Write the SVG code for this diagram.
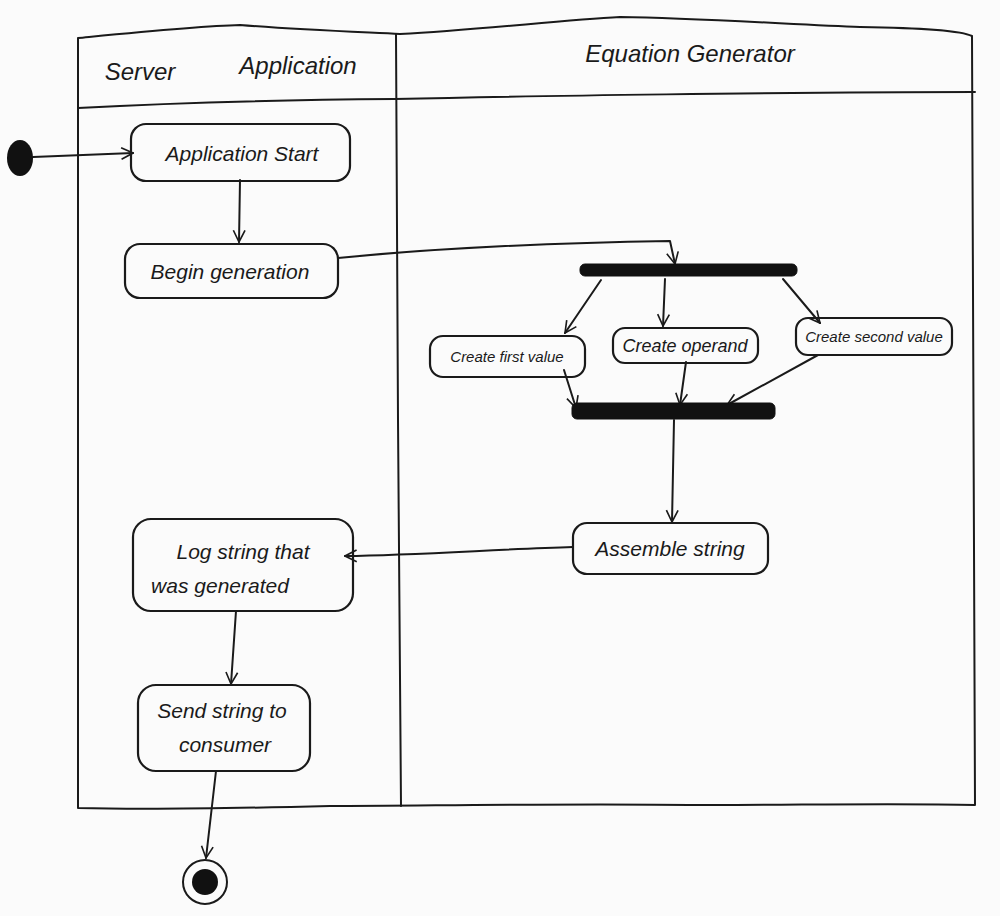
<svg xmlns="http://www.w3.org/2000/svg" width="1000" height="916" viewBox="0 0 1000 916">
<defs>
<marker id="arr" viewBox="0 0 12 12" refX="11" refY="6" markerWidth="14" markerHeight="14" markerUnits="userSpaceOnUse" orient="auto">
<path d="M1,1 L11,6 L1,11" fill="none" stroke="#1a1a1a" stroke-width="1.4"/>
</marker>
<style>
.ln{fill:none;stroke:#1a1a1a;stroke-width:2;stroke-linecap:round;stroke-linejoin:round}
.box{fill:none;stroke:#1a1a1a;stroke-width:2.2}
.bar{fill:#111;stroke:#111;stroke-width:1}
.t{font-family:"Liberation Sans",Arial,sans-serif;fill:#1a1a1a;text-anchor:middle;font-style:italic}
.h{font-size:24px}
.m{font-size:21px}
.o{font-size:18px}
.s{font-size:15px}
</style>
</defs>
<rect width="1000" height="916" fill="#fbfbfb"/>
<g id="frame">
<path class="ln" d="M78,38 C140,32 200,26 240,25 C300,30 360,32 400,34 C480,30 560,20 620,17 C700,18 800,25 860,27 C920,28 960,30 972,36 L975,805 C900,803 800,805 700,805 C560,803 420,806 330,806 C250,808 150,810 78,808 Z"/>
<path class="ln" d="M78,108 C150,104 260,100 395,99 C520,96 800,92 975,92"/>
<path class="ln" d="M396,34 L398,420 L401,806"/>
</g>
<g id="lane-headers">
<text class="t h" x="140" y="80">Server</text>
<text class="t h" x="298" y="74">Application</text>
<text class="t h" x="690" y="62">Equation  Generator</text>
</g>
<g id="connectors">
<path class="ln" d="M33,157 L133,153" marker-end="url(#arr)"/>
<path class="ln" d="M240,180 L239,242" marker-end="url(#arr)"/>
<path class="ln" d="M338,258 C420,250 540,243 670,241 L675,264" marker-end="url(#arr)"/>
<path class="ln" d="M601,280 L565,333" marker-end="url(#arr)"/>
<path class="ln" d="M665,279 L663,326" marker-end="url(#arr)"/>
<path class="ln" d="M783,279 L820,323" marker-end="url(#arr)"/>
<path class="ln" d="M564,370 L576,408" marker-end="url(#arr)"/>
<path class="ln" d="M686,362 L680,405" marker-end="url(#arr)"/>
<path class="ln" d="M818,355 L727,405" marker-end="url(#arr)"/>
<path class="ln" d="M674,420 L672,522" marker-end="url(#arr)"/>
<path class="ln" d="M573,547 C500,549 420,555 345,556" marker-end="url(#arr)"/>
<path class="ln" d="M236,611 L231,684" marker-end="url(#arr)"/>
<path class="ln" d="M216,771 L206,858" marker-end="url(#arr)"/>
</g>
<g id="start"><ellipse cx="20" cy="158" rx="13" ry="18" fill="#111"/></g>
<g id="app-start">
<rect class="box" x="131" y="124" width="219" height="57" rx="15"/>
<text class="t m" x="242" y="161">Application  Start</text>
</g>
<g id="begin-gen">
<rect class="box" x="125" y="244" width="213" height="54" rx="15"/>
<text class="t m" x="230" y="279">Begin  generation</text>
</g>
<g id="fork"><rect class="bar" x="580" y="264" width="217" height="12" rx="5"/></g>
<g id="first-value">
<rect class="box" x="430" y="336" width="155" height="41" rx="13"/>
<text class="t s" x="507" y="362">Create first value</text>
</g>
<g id="operand">
<rect class="box" x="613" y="328" width="145" height="35" rx="12"/>
<text class="t o" x="685" y="352">Create  operand</text>
</g>
<g id="second-value">
<rect class="box" x="796" y="318" width="156" height="37" rx="12"/>
<text class="t s" x="874" y="342">Create second value</text>
</g>
<g id="join"><rect class="bar" x="572" y="403" width="203" height="16" rx="5"/></g>
<g id="assemble">
<rect class="box" x="573" y="523" width="195" height="51" rx="14"/>
<text class="t m" x="670" y="556">Assemble string</text>
</g>
<g id="log">
<rect class="box" x="133" y="519" width="220" height="92" rx="18"/>
<text class="t m" x="243" y="559">Log  string  that</text>
<text class="t m" x="220" y="593">was generated</text>
</g>
<g id="send">
<rect class="box" x="138" y="685" width="172" height="86" rx="18"/>
<text class="t m" x="222" y="718">Send  string to</text>
<text class="t m" x="225" y="752">consumer</text>
</g>
<g id="end">
<circle cx="205" cy="882" r="22" fill="none" stroke="#1a1a1a" stroke-width="2"/>
<circle cx="205" cy="882" r="13" fill="#111"/>
</g>
</svg>
